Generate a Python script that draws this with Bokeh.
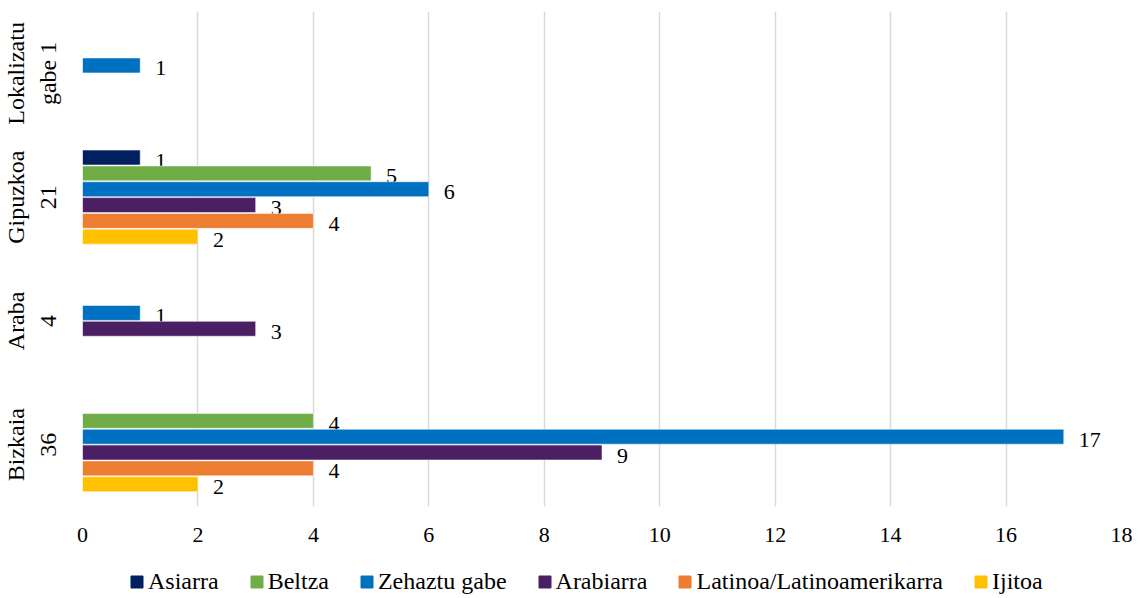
from bokeh.plotting import figure
from bokeh.layouts import column
from bokeh.models import ColumnDataSource, Legend, LegendItem, FactorRange, SingleIntervalTicker, Range1d
from bokeh.transform import dodge
from bokeh.core.properties import value
from bokeh.embed import file_html
from bokeh.resources import INLINE

categories = ["Bizkaia\n36", "Araba\n4", "Gipuzkoa\n21", "Lokalizatu\ngabe 1"]
series = ["Asiarra", "Beltza", "Zehaztu gabe", "Arabiarra", "Latinoa/Latinoamerikarra", "Ijitoa"]
asiarra = [0, 0, 1, 0]
beltza = [4, 0, 5, 0]
zehaztu = [17, 1, 6, 1]
arabiarra = [9, 3, 3, 0]
latinoa = [4, 0, 4, 0]
ijitoa = [2, 0, 2, 0]
colors = ["#002060", "#70AD47", "#0070C0", "#4B1F63", "#ED7D31", "#FFC000"]

values = [asiarra, beltza, zehaztu, arabiarra, latinoa, ijitoa]
FONT = "Liberation Serif"

p = figure(frame_width=1039, frame_height=495, y_range=FactorRange(*categories, range_padding=0),
           x_range=(0, 18), output_backend="svg", toolbar_location=None,
           min_border_left=74, min_border_right=12, min_border_top=11, min_border_bottom=44)
p.outline_line_color = None
p.ygrid.grid_line_color = None
p.xgrid.grid_line_color = "#D9D9D9"
p.xgrid.grid_line_width = 1.5
p.xaxis.ticker = SingleIntervalTicker(interval=2)
for ax in (p.xaxis[0], p.yaxis[0]):
    ax.axis_line_color = None
    ax.major_tick_line_color = None
    ax.minor_tick_line_color = None
    ax.major_label_text_font = FONT
    ax.major_label_text_color = "#000000"
p.xaxis.major_label_text_font_size = "22px"
p.yaxis.major_label_text_font_size = "24px"
p.yaxis.major_label_orientation = "vertical"
p.yaxis.major_label_standoff = 16
p.xaxis.major_label_standoff = 15

step = 0.128
for i, (name, vals, col) in enumerate(zip(series, values, colors)):
    off = (2.5 - i) * step
    src = ColumnDataSource(dict(cat=categories, v=vals))
    p.hbar(y=dodge("cat", off, range=p.y_range), right="v", left=0, height=0.12,
           color=col, line_color="white", line_width=0.5, source=src)
    nz = [(c, v) for c, v in zip(categories, vals) if v != 0]
    lsrc = ColumnDataSource(dict(cat=[c for c, _ in nz], v=[v for _, v in nz],
                                 t=[str(v) for _, v in nz]))
    p.text(x="v", y=dodge("cat", off, range=p.y_range), text="t", source=lsrc,
           x_offset=15, y_offset=3, text_align="left", text_baseline="middle",
           text_font=value(FONT), text_font_size="22px", text_color="#000000")

# legend in its own strip below the chart
lg = figure(width=1125, height=45, x_range=Range1d(0, 1), y_range=Range1d(0, 1),
            x_axis_type=None, y_axis_type=None,
            output_backend="svg", toolbar_location=None,
            min_border_left=0, min_border_right=0, min_border_top=0, min_border_bottom=0)
lg.grid.visible = False
lg.outline_line_color = None
items = []
for name, col in zip(series, colors):
    r = lg.rect(x=[-5], y=[-5], width=1, height=1, color=col)
    items.append(LegendItem(label=name, renderers=[r]))
legend = Legend(items=items, orientation="horizontal", location=(47, 0),
                label_text_font=FONT, label_text_font_size="24px", label_height=24,
                label_text_color="#000000",
                glyph_width=15, glyph_height=15, spacing=30, label_standoff=4,
                border_line_color=None, background_fill_alpha=0, margin=0, padding=0)
lg.add_layout(legend)

layout = column(p, lg, spacing=0)
open("out.html", "w").write(file_html(layout, INLINE))
